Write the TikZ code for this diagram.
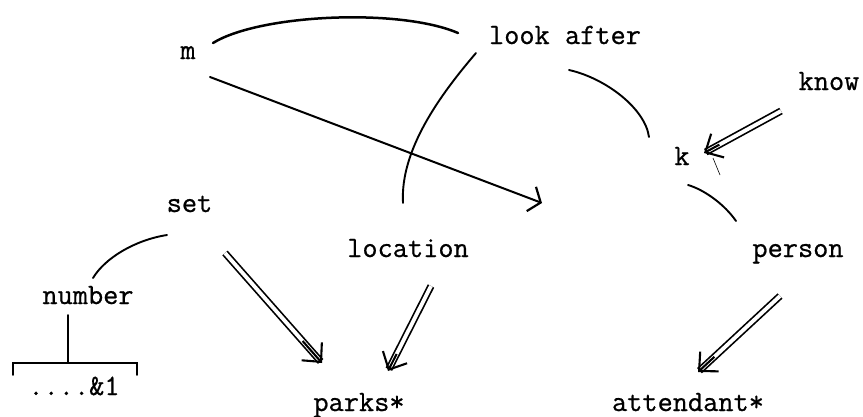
\documentclass[tikz,border=0pt]{standalone}
\usepackage{fontspec}
\setmonofont{Latin Modern Mono}[FakeBold=0.7]
\usetikzlibrary{arrows.meta,calc}
\tikzset{
  lbl/.style={anchor=base, inner sep=0pt, font=\ttfamily\fontsize{29.5}{33}\selectfont},
  hand/.style={line width=1.9pt, line cap=round},
  thickhand/.style={line width=2.5pt, line cap=round},
  dbl/.style={double, double distance=3.8pt, line width=1.7pt, shorten >=2pt},
  chev/.style={line width=2.1pt, -{Straight Barb[length=14pt,width=27pt,line width=2.1pt]}},
  sarrow/.style={line width=2pt, line cap=round, -{Straight Barb[length=10pt,width=26pt,line width=2.2pt]}},
}
\newcommand{\dblarrow}[2]{%
  \draw[dbl] #1 -- #2;
  \draw[chev] ($#1!0.8!#2$) -- #2;
}
\begin{document}
\begin{tikzpicture}[x=1pt,y=-1pt]
\useasboundingbox (0,0) rectangle (863,416);
% nodes
\node[lbl] (m) at (188,59) {m};
\node[lbl] (lookafter) at (565,44) {look after};
\node[lbl] (know) at (829,90) {know};
\node[lbl] (k) at (682,165) {k};
\node[lbl] (set) at (189.5,212) {set};
\node[lbl] (location) at (408,257) {location};
\node[lbl] (person) at (798,257) {person};
\node[lbl] (number) at (88,304) {number};
\node[lbl] (dots) at (74,395) {....\&1};
\node[lbl] (parks) at (359,411) {parks*};
\node[lbl] (attendant) at (688,411) {attendant*};
\coordinate (mend) at (542,203);
% single connectors
\draw[thickhand] ($(m.base)+(25,-16)$) .. controls (260,14) and (400,8) .. ($(lookafter.base)+(-107,-11)$);
\draw[sarrow] ($(m.base)+(22,18)$) -- (mend);
\draw[hand] ($(lookafter.base)+(-89,9)$) .. controls (440,95) and (400,150) .. ($(location.base)+(-5,-54)$);
\draw[hand] ($(lookafter.base)+(4,26)$) .. controls (605,78) and (645,108) .. ($(k.base)+(-33,-28)$);
\draw[hand] ($(k.base)+(6,20)$) .. controls (705,190) and (725,205) .. ($(person.base)+(-62,-36)$);
\draw[hand] ($(set.base)+(-22.5,23)$) .. controls (135,240) and (105,258) .. ($(number.base)+(5,-26)$);
% tree under number
\draw[hand] ($(number.base)+(-20,11)$) -- ($(dots.base)+(-6,-33)$);
\draw[hand] ($(dots.base)+(-61,-20)$) -- ($(dots.base)+(-61,-32)$) -- ($(dots.base)+(63,-32)$) -- ($(dots.base)+(63,-20)$);
% double arrows
\dblarrow{($(know.base)+(-48,21)$)}{($(k.base)+(22,-12)$)}
\draw[line width=0.6pt] ($(k.base)+(31,-7)$) -- ($(k.base)+(38,10)$);
\dblarrow{($(set.base)+(35.5,41)$)}{($(parks.base)+(-37,-48)$)}
\dblarrow{($(location.base)+(23,29)$)}{($(parks.base)+(29,-40)$)}
\dblarrow{($(person.base)+(-18,39)$)}{($(attendant.base)+(10,-39)$)}
\end{tikzpicture}
\end{document}
